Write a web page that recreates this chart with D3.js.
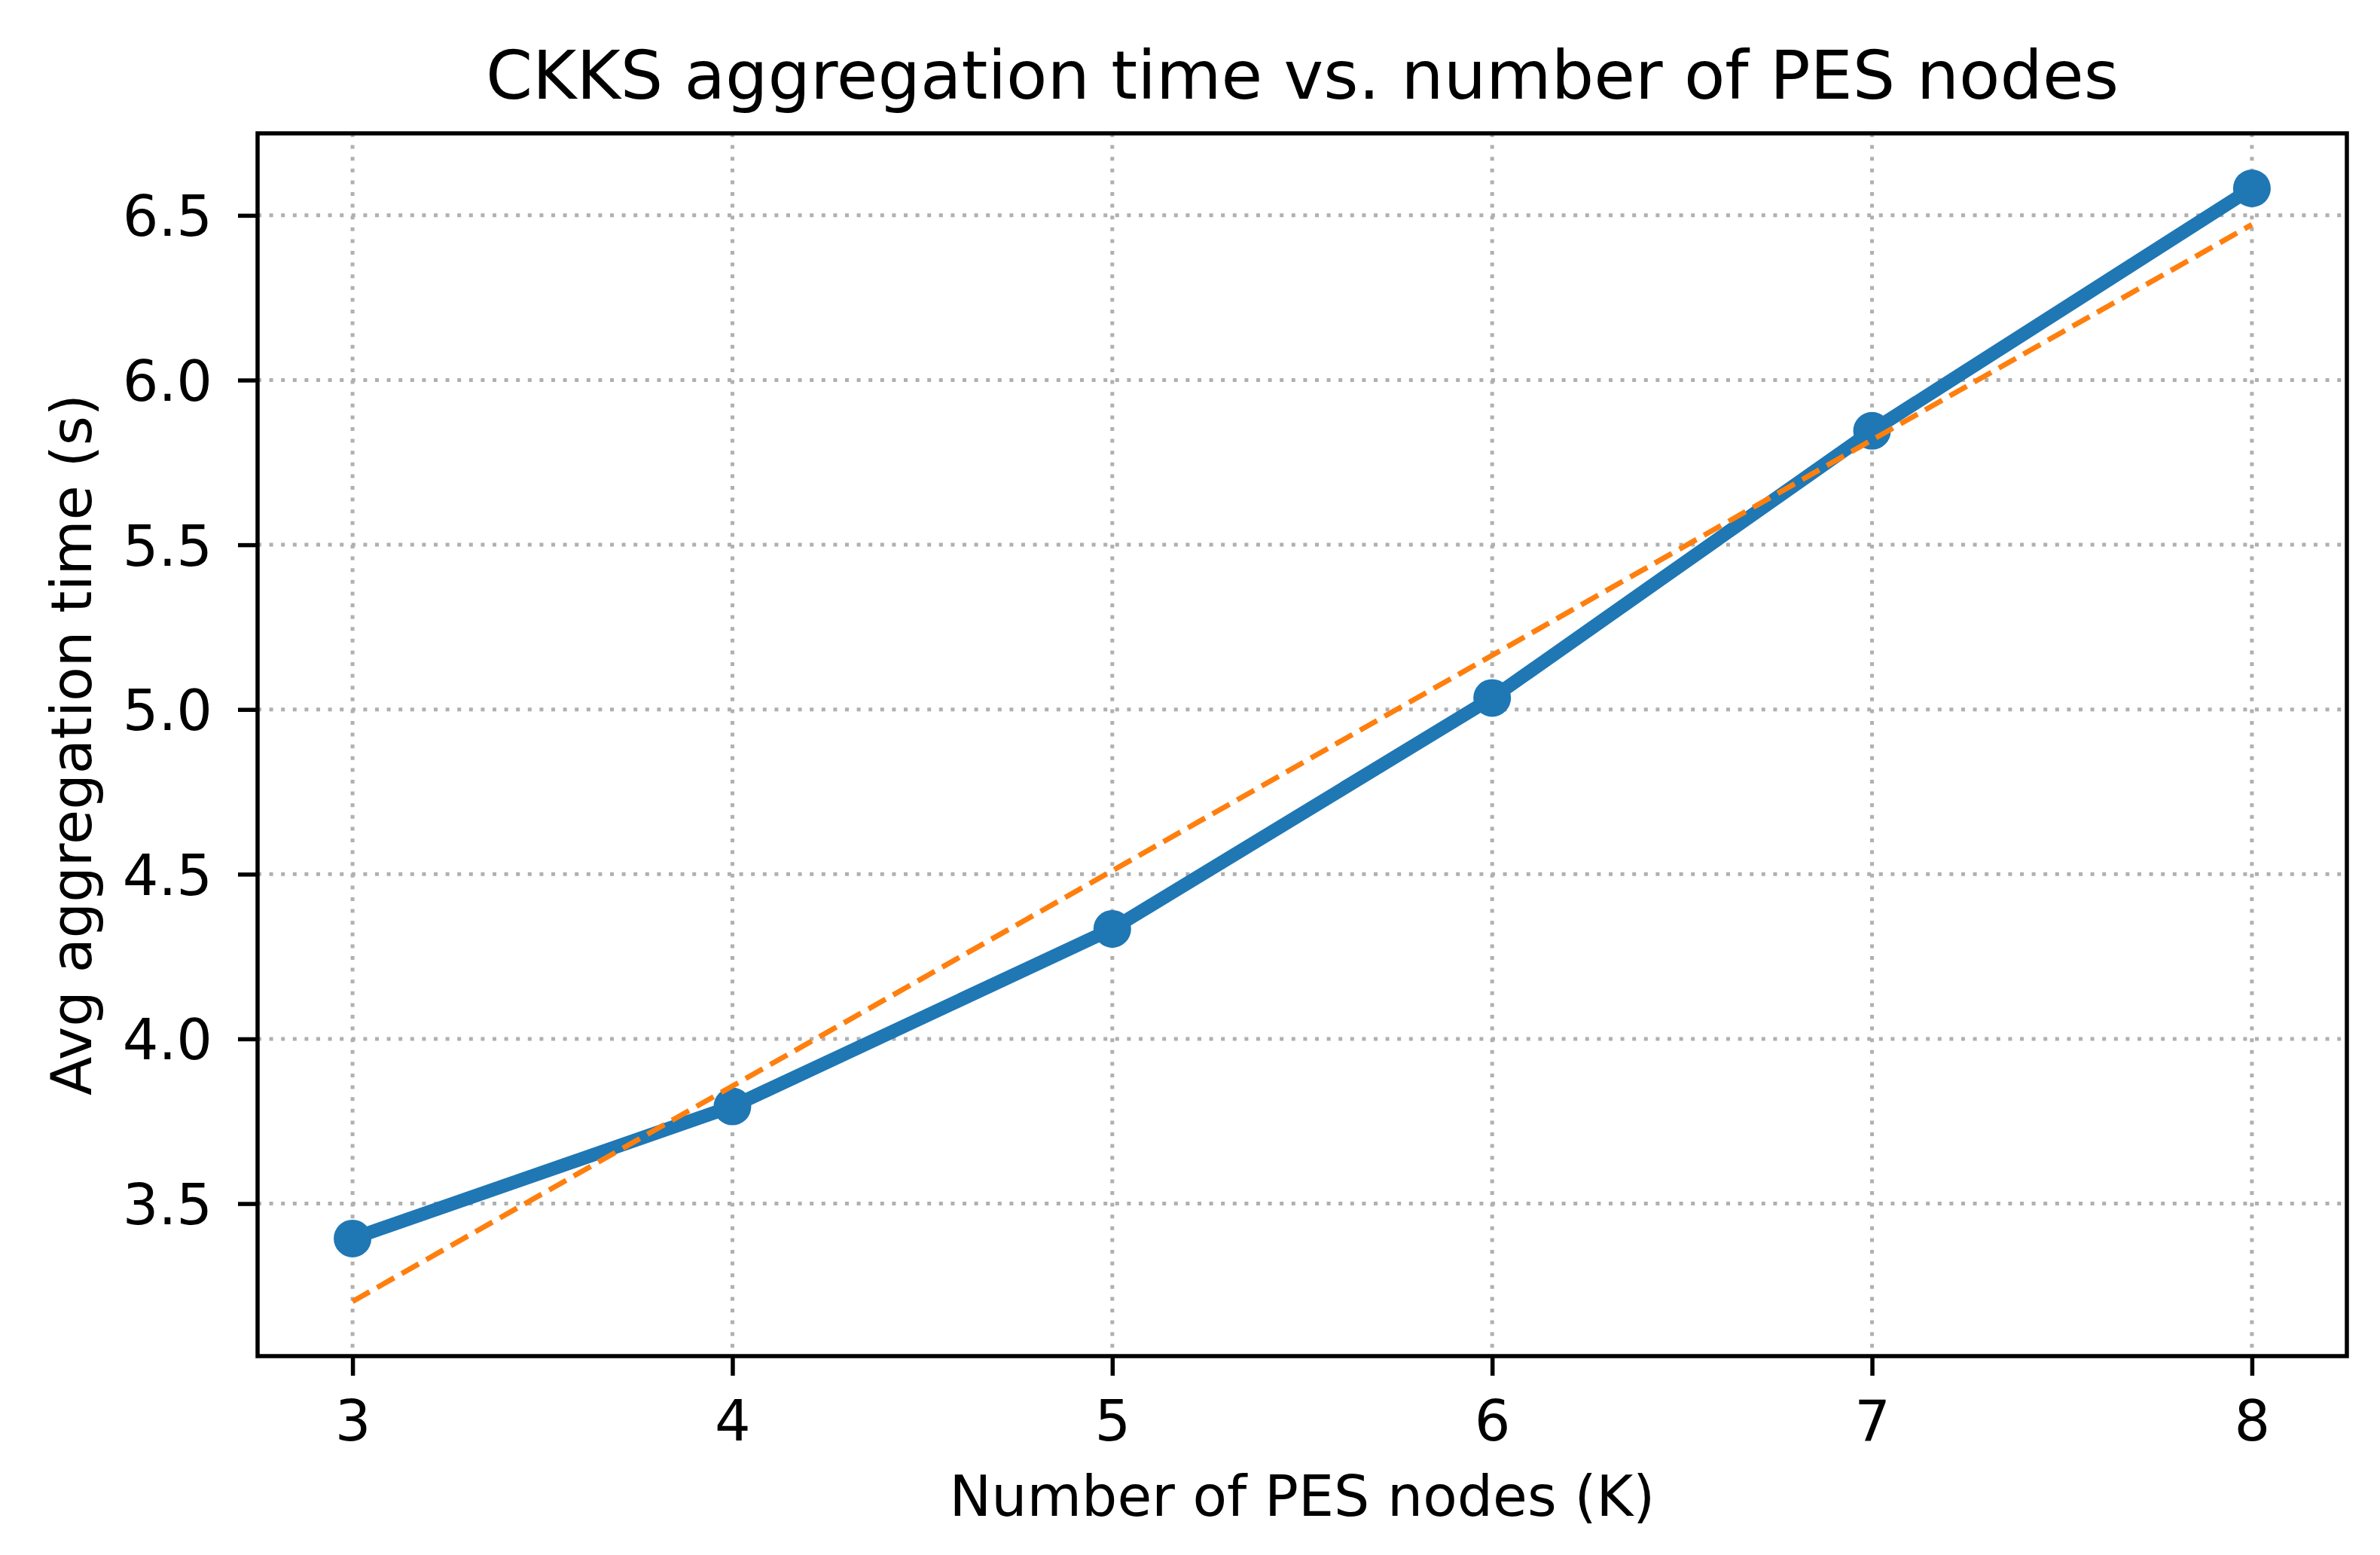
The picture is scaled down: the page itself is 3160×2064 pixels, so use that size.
<!DOCTYPE html>
<html>
<head>
<meta charset="utf-8">
<script src="https://cdn.jsdelivr.net/npm/d3@7"></script>
<style>
  html, body { margin: 0; padding: 0; background: #ffffff; }
  svg { display: block; }
  text { font-family: "DejaVu Sans", sans-serif; fill: #000; }
</style>
</head>
<body>
<script>
// ---- data ----
const nodes = [3, 4, 5, 6, 7, 8];
const aggTime = [3.394, 3.795, 4.334, 5.035, 5.846, 6.582];
const trendX = [3, 8];
const trendY = [3.203, 6.472];
const xTicks = [3, 4, 5, 6, 7, 8];
const yTicks = [3.5, 4.0, 4.5, 5.0, 5.5, 6.0, 6.5];
const titleText = "CKKS aggregation time vs. number of PES nodes";
const xLabelText = "Number of PES nodes (K)";
const yLabelText = "Avg aggregation time (s)";

// ---- layout ----
const W = 3160, H = 2064;
const plot = { left: 342, right: 3116, top: 177, bottom: 1800 };

const svg = d3.select("body").append("svg")
  .attr("width", W).attr("height", H)
  .attr("viewBox", `0 0 ${W} ${H}`);

const x = d3.scaleLinear().domain([2.75, 8.25]).range([plot.left, plot.right]);
const y = d3.scaleLinear().domain([3.037, 6.749]).range([plot.bottom, plot.top]);

const gridColor = "#b0b0b0";

// grid
const grid = svg.append("g");
grid.selectAll("line.gx").data(xTicks).enter().append("line")
  .attr("x1", d => x(d)).attr("x2", d => x(d))
  .attr("y1", plot.top).attr("y2", plot.bottom)
  .attr("stroke", gridColor).attr("stroke-width", 5)
  .attr("stroke-dasharray", "5 10.6");
grid.selectAll("line.gy").data(yTicks).enter().append("line")
  .attr("x1", plot.left).attr("x2", plot.right)
  .attr("y1", d => y(d)).attr("y2", d => y(d))
  .attr("stroke", gridColor).attr("stroke-width", 5)
  .attr("stroke-dasharray", "5 10.6");

// clip
svg.append("clipPath").attr("id", "clip").append("rect")
  .attr("x", plot.left).attr("y", plot.top)
  .attr("width", plot.right - plot.left).attr("height", plot.bottom - plot.top);

const trendData = trendX.map((v, i) => ({ x: v, y: trendY[i] }));
const mainData = nodes.map((v, i) => ({ x: v, y: aggTime[i] }));
const lineGen = d3.line().x(d => x(d.x)).y(d => y(d.y));

svg.append("path").datum(mainData)
  .attr("d", lineGen)
  .attr("fill", "none").attr("stroke", "#1f77b4")
  .attr("stroke-width", 18).attr("stroke-linejoin", "round").attr("stroke-linecap", "butt")
  .attr("clip-path", "url(#clip)");

svg.selectAll("circle.pt").data(mainData).enter().append("circle")
  .attr("cx", d => x(d.x)).attr("cy", d => y(d.y)).attr("r", 25)
  .attr("fill", "#1f77b4");

svg.append("path").datum(trendData)
  .attr("d", lineGen)
  .attr("fill", "none").attr("stroke", "#ff7f0e")
  .attr("stroke-width", 7).attr("stroke-dasharray", "26 11.5")
  .attr("clip-path", "url(#clip)");

// axes
const xAxis = d3.axisBottom(x).tickValues(xTicks).tickFormat(d3.format("d"))
  .tickSize(26).tickPadding(26);
const yAxis = d3.axisLeft(y).tickValues(yTicks).tickFormat(d3.format(".1f"))
  .tickSize(26).tickPadding(34);

const gx = svg.append("g").attr("transform", `translate(0,${plot.bottom})`).call(xAxis);
const gy = svg.append("g").attr("transform", `translate(${plot.left},0)`).call(yAxis);
[gx, gy].forEach(g => {
  g.select(".domain").remove();
  g.selectAll(".tick line").attr("stroke", "#000").attr("stroke-width", 5.5);
  g.selectAll(".tick text").attr("font-size", 75).attr("fill", "#000")
    .style("font-family", "'DejaVu Sans', sans-serif");
});
gx.selectAll(".tick text").attr("y", 112).attr("dy", 0);
gy.selectAll(".tick text").attr("dy", "0.36em");

// frame
svg.append("rect")
  .attr("x", plot.left).attr("y", plot.top)
  .attr("width", plot.right - plot.left).attr("height", plot.bottom - plot.top)
  .attr("fill", "none").attr("stroke", "#000").attr("stroke-width", 5.5);

// labels
svg.append("text").attr("x", (plot.left + plot.right) / 2).attr("y", 131)
  .attr("text-anchor", "middle").attr("font-size", 89).text(titleText);
svg.append("text").attr("x", (plot.left + plot.right) / 2).attr("y", 2012)
  .attr("text-anchor", "middle").attr("font-size", 74.5).text(xLabelText);
svg.append("text")
  .attr("transform", `translate(121,${(plot.top + plot.bottom) / 2}) rotate(-90)`)
  .attr("text-anchor", "middle").attr("font-size", 75).text(yLabelText);
</script>
</body>
</html>
